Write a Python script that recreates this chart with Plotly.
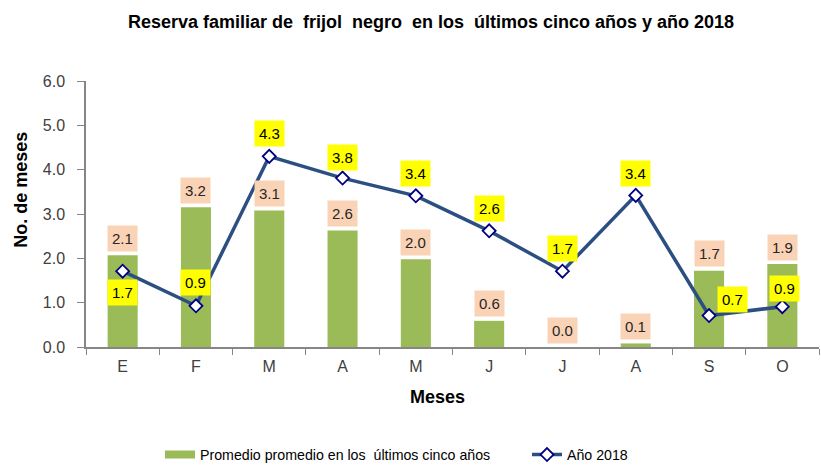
import plotly.graph_objects as go

months = ["E", "F", "M", "A", "M ", "J", "J ", "A ", "S", "O"]
month_labels = ["E", "F", "M", "A", "M", "J", "J", "A", "S", "O"]
promedio = [2.07, 3.15, 3.08, 2.63, 1.98, 0.59, 0.0, 0.08, 1.72, 1.87]
promedio_labels = ["2.1", "3.2", "3.1", "2.6", "2.0", "0.6", "0.0", "0.1", "1.7", "1.9"]
anio2018 = [1.71, 0.93, 4.30, 3.81, 3.41, 2.62, 1.71, 3.42, 0.71, 0.91]
anio_labels = ["1.7", "0.9", "4.3", "3.8", "3.4", "2.6", "1.7", "3.4", "0.7", "0.9"]
# label placement offsets (pixels) for the 2018 series
anio_xshift = [0, 0, 0, 0, 0, 0, 0, 0, 23, 2]
anio_yshift = [-21, 23, 23, 21, 22, 22, 23, 22, 16, 18]

FONT = "Liberation Sans, Arial"
BAR_NAME = "Promedio promedio en los  últimos cinco años"
BAR_COLOR = "#9BBB59"

fig = go.Figure()
fig.add_trace(go.Bar(
    x=months, y=promedio, name=BAR_NAME, legendgroup="bar", showlegend=False,
    marker=dict(color=BAR_COLOR, line=dict(width=0)), width=0.41,
))
# legend entry for the bars (wide rectangle swatch)
fig.add_trace(go.Scatter(
    x=[None], y=[None], name=BAR_NAME, legendgroup="bar", mode="lines",
    line=dict(color=BAR_COLOR, width=8), hoverinfo="skip", legend="legend",
))
fig.add_trace(go.Scatter(
    x=months, y=anio2018, name="Año 2018", mode="lines+markers",
    line=dict(color="#2B4F81", width=3.5),
    marker=dict(symbol="diamond", size=10, color="white",
                line=dict(color="#000080", width=1.8)),
    legend="legend2",
))

annotations = []
for m, v, t in zip(months, promedio, promedio_labels):
    annotations.append(dict(
        x=m, y=v, text=t, showarrow=False, yshift=17, yanchor="middle",
        bgcolor="#FAD3B6", borderpad=4,
        font=dict(family=FONT, size=15, color="#262626"),
    ))
for m, v, t, xs, ys in zip(months, anio2018, anio_labels, anio_xshift, anio_yshift):
    annotations.append(dict(
        x=m, y=v, text=t, showarrow=False, xshift=xs, yshift=ys, yanchor="middle",
        bgcolor="#FFFF00", borderpad=4,
        font=dict(family=FONT, size=15, color="#000000"),
    ))
annotations.append(dict(
    xref="paper", yref="paper", x=0.479, y=-0.188, xanchor="center", yanchor="middle",
    text="<b>Meses</b>",
    showarrow=False, font=dict(family=FONT, size=18, color="#000000"),
))
annotations.append(dict(
    xref="paper", yref="paper", x=-0.089, y=0.59, xanchor="center", yanchor="middle",
    text="<b>No. de meses</b>",
    textangle=-90, showarrow=False, font=dict(family=FONT, size=18, color="#000000"),
))

legend_common = dict(
    orientation="h", xref="container", yref="container", xanchor="left",
    y=0.024, yanchor="middle", itemwidth=30,
    font=dict(family=FONT, size=14.2, color="#000000"),
)

fig.update_layout(
    width=821, height=466,
    margin=dict(l=86, r=2, t=81, b=119, autoexpand=False),
    paper_bgcolor="white", plot_bgcolor="white",
    title=dict(
        text="<b>Reserva familiar de  frijol  negro  en los  últimos cinco años y año 2018</b>",
        x=0.525, xanchor="center", y=0.953, yanchor="middle",
        font=dict(family=FONT, size=18, color="#000000"),
    ),
    font=dict(family=FONT, size=16, color="#404040"),
    showlegend=True,
    legend=dict(legend_common, x=160 / 821),
    legend2=dict(legend_common, x=527 / 821),
    annotations=annotations,
)
fig.update_xaxes(
    type="category", tickmode="array", tickvals=months, ticktext=month_labels,
    range=[-0.5, 9.5], automargin=False,
    tickson="boundaries", ticks="outside", ticklen=6, tickcolor="#868686",
    ticklabelstandoff=4,
    showline=True, linecolor="#868686", linewidth=1.5, showgrid=False,
    tickfont=dict(family=FONT, size=16, color="#404040"),
)
fig.update_yaxes(
    range=[0, 6], dtick=1, tickformat=".1f", ticks="outside", ticklen=7,
    automargin=False, ticklabelstandoff=9,
    tickcolor="#868686", showline=True, linecolor="#868686", linewidth=1.5,
    showgrid=False, zeroline=False,
    tickfont=dict(family=FONT, size=16, color="#404040"),
)

fig.write_html(
    "out.html",
    config={"displayModeBar": False},
    post_script="document.body.style.margin='0';document.body.style.padding='0';",
)
